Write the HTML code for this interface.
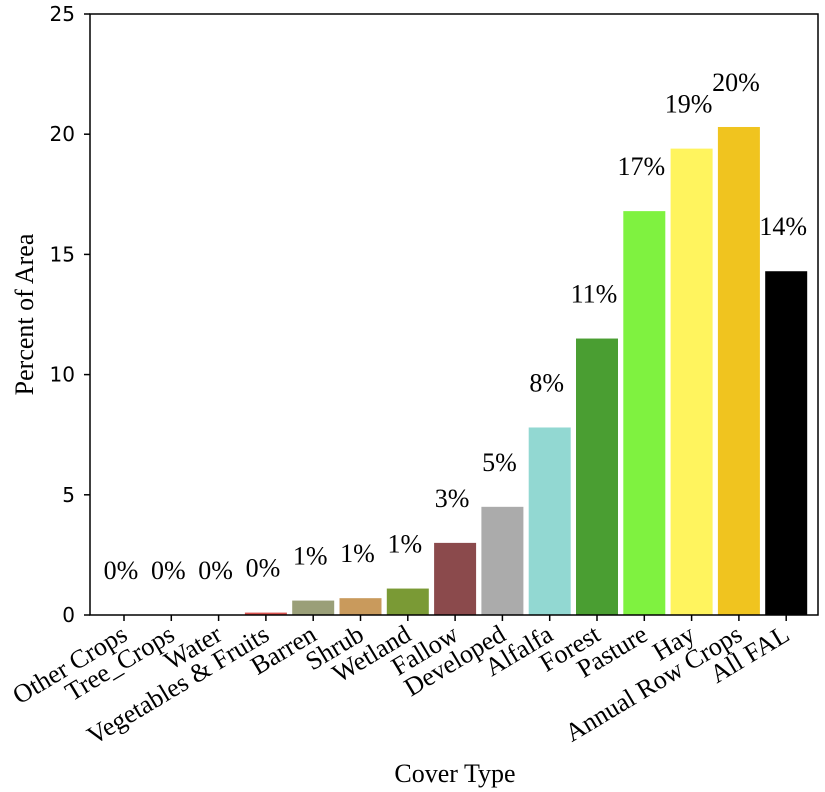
<!DOCTYPE html>
<html><head><meta charset="utf-8"><style>body{margin:0;background:#fff}svg{display:block}</style></head>
<body>
<svg id="chart" width="825" height="792" xmlns="http://www.w3.org/2000/svg"></svg>
<script>
const categories=["Other Crops","Tree_Crops","Water","Vegetables & Fruits","Barren","Shrub","Wetland","Fallow","Developed","Alfalfa","Forest","Pasture","Hay","Annual Row Crops","All FAL"];
const values=[0,0,0,0.1,0.6,0.7,1.1,3.0,4.5,7.8,11.5,16.8,19.4,20.3,14.3];
const valueLabels=["0%","0%","0%","0%","1%","1%","1%","3%","5%","8%","11%","17%","19%","20%","14%"];
const colors=["#888","#888","#888","#d9534f","#9a9f78","#c99a5c","#7a9a35","#8b4a4c","#ababab","#92d8d2","#4a9e32","#7ff240","#fff45e","#f0c41f","#000000"];
const yTicks=[0,5,10,15,20,25];
const svg=document.getElementById('chart');
const NS='http://www.w3.org/2000/svg';
const L=90,R=818,T=14,B=615,yMax=25;
const x=i=>124+i*47.3;
const y=v=>B-(v/yMax)*(B-T);
const bw=42;
function mk(tag,attrs,txt){const e=document.createElementNS(NS,tag);for(const k in attrs)e.setAttribute(k,attrs[k]);if(txt!==undefined)e.textContent=txt;svg.appendChild(e);return e;}
values.forEach((v,i)=>{
  const r=mk('rect',{x:x(i)-bw/2,y:y(v),width:bw,height:B-y(v),fill:colors[i]});
  
  
  const t=mk('text',{x:x(i)-3,y:y(v)-36,'text-anchor':'middle','font-family':'Liberation Serif, serif','font-size':'26'},valueLabels[i]);
  
  
  mk('line',{x1:x(i),x2:x(i),y1:B,y2:B+6,stroke:'#000','stroke-width':1.5});
  const c=mk('text',{transform:`translate(${x(i)+5},${B+24}) rotate(-31)`,'text-anchor':'end','font-family':'Liberation Serif, serif','font-size':'26'},categories[i]);
  
  
});
yTicks.forEach(t=>{
  mk('line',{x1:L-6,x2:L,y1:y(t),y2:y(t),stroke:'#000','stroke-width':1.5});
  const e=mk('text',{x:L-15,y:y(t)+7,'text-anchor':'end','font-family':'DejaVu Sans, sans-serif','font-size':'20'},t);
  
  
});
const fr=mk('rect',{x:L,y:T,width:R-L,height:B-T,fill:'none',stroke:'#000','stroke-width':1.5});


const yt=mk('text',{transform:`translate(33,${(T+B)/2}) rotate(-90)`,'text-anchor':'middle','font-family':'Liberation Serif, serif','font-size':'26'},'Percent of Area');


const xt=mk('text',{x:455,y:782,'text-anchor':'middle','font-family':'Liberation Serif, serif','font-size':'26'},'Cover Type');


</script>
</body></html>
